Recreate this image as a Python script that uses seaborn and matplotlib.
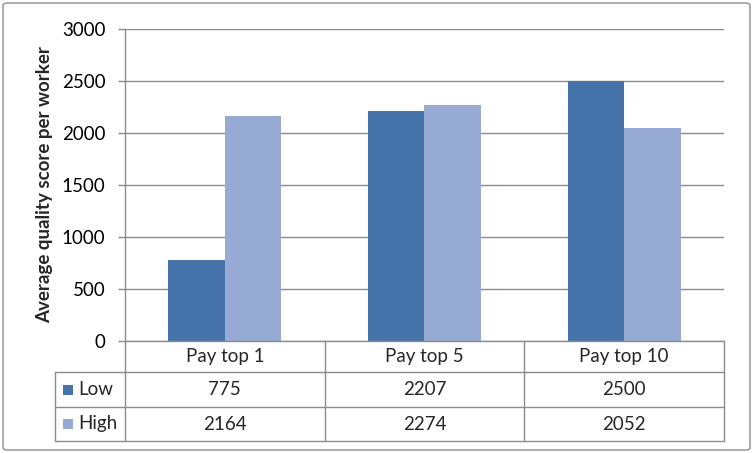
import matplotlib
matplotlib.use("Agg")
import matplotlib.pyplot as plt
import matplotlib.transforms as mtransforms
from matplotlib.patches import FancyBboxPatch, Rectangle
from matplotlib.lines import Line2D
import seaborn as sns
import pandas as pd

categories = ["Pay top 1", "Pay top 5", "Pay top 10"]
series_names = ["Low", "High"]
low_values = [775, 2207, 2500]
high_values = [2164, 2274, 2052]
y_ticks = [0, 500, 1000, 1500, 2000, 2500, 3000]
y_label = "Average quality score per worker"

colors = {"Low": "#4674AA", "High": "#96AAD3"}
grid_color = "#8C8C8C"
fs = 13.5

sns.set_theme(style="white")
plt.rcParams["font.family"] = ["Lato", "DejaVu Sans"]

W, H = 753, 453
fig = plt.figure(figsize=(W / 100, H / 100), dpi=100)

def fx(px):
    return px / W

def fy(py):
    return 1 - py / H

left, right, top, bottom = 125, 724, 29, 341
ax = fig.add_axes([fx(left), fy(bottom), fx(right) - fx(left), fy(top) - fy(bottom)])

df = pd.DataFrame({
    "category": categories * 2,
    "series": ["Low"] * 3 + ["High"] * 3,
    "value": low_values + high_values,
})
sns.barplot(data=df, x="category", y="value", hue="series", hue_order=series_names,
            palette=colors, width=0.565, gap=0, linewidth=0, saturation=1,
            legend=False, ax=ax, zorder=3)

ax.set_xlim(-0.5, len(categories) - 0.5)
ax.set_ylim(0, 3000)
ax.set_yticks(y_ticks)
ax.set_yticklabels([str(t) for t in y_ticks], fontsize=fs, color="black")
ax.tick_params(axis="y", direction="out", length=5, width=1, color=grid_color, pad=9, left=True)
ax.tick_params(axis="x", bottom=False, labelbottom=False)
ax.set_xlabel("")
ax.set_ylabel("")
for s in ["top", "right", "bottom"]:
    ax.spines[s].set_visible(False)
ax.spines["left"].set_color(grid_color)
ax.spines["left"].set_linewidth(1)
ax.yaxis.grid(True, color=grid_color, linewidth=1, zorder=0)
ax.set_axisbelow(True)

fig.text(fx(45), fy((top + bottom) / 2), y_label, rotation=90, ha="center", va="center",
         fontsize=fs, fontweight="bold")

# data table below the axis
trans = mtransforms.blended_transform_factory(ax.transData, fig.transFigure)
row_y = [341, 372, 407, 441]
tbl_left = 55
lw = 1
for i, py in enumerate(row_y):
    x0 = left if i == 0 else tbl_left
    fig.add_artist(Line2D([fx(x0), fx(right)], [fy(py), fy(py)], color=grid_color, lw=lw,
                          transform=fig.transFigure))
n = len(categories)
for k in range(n + 1):
    xd = k - 0.5
    fig.add_artist(Line2D([xd, xd], [fy(row_y[0]), fy(row_y[-1])], color=grid_color, lw=lw,
                          transform=trans, clip_on=False))
fig.add_artist(Line2D([fx(tbl_left), fx(tbl_left)], [fy(row_y[1]), fy(row_y[-1])], color=grid_color,
                      lw=lw, transform=fig.transFigure))

for i, c in enumerate(categories):
    fig.text(i, fy((row_y[0] + row_y[1]) / 2), c, transform=trans, ha="center", va="center", fontsize=fs)

rows = [low_values, high_values]
for r, (name, vals) in enumerate(zip(series_names, rows)):
    yc = fy((row_y[r + 1] + row_y[r + 2]) / 2)
    for i, v in enumerate(vals):
        fig.text(i, yc, str(v), transform=trans, ha="center", va="center", fontsize=fs)
    fig.add_artist(Rectangle((fx(63), yc - 5 / H), 10 / W, 10 / H, facecolor=colors[name],
                             edgecolor="none", transform=fig.transFigure))
    fig.text(fx(78), yc, name, ha="left", va="center", fontsize=fs)

fig.add_artist(FancyBboxPatch((fx(3), fy(450)), fx(750) - fx(3), fy(3) - fy(450),
                              boxstyle="round,pad=0,rounding_size=0.006", facecolor="none",
                              edgecolor="#8C8C8C", lw=1, transform=fig.transFigure))

fig.savefig("out.png", dpi=100)
